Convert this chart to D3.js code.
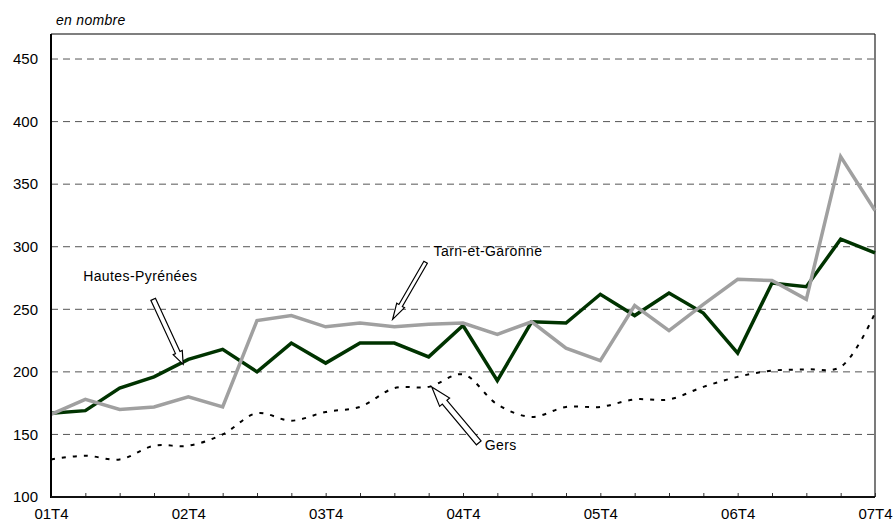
<!DOCTYPE html>
<html>
<head>
<meta charset="utf-8">
<script src="https://cdn.jsdelivr.net/npm/d3@7"></script>
<style>
  body { margin: 0; background: #fff; }
  text { font-family: "Liberation Sans", Arial, sans-serif; fill: #000; }
</style>
</head>
<body>
<svg id="chart" width="895" height="524"></svg>
<script>
  // quarters 01T4 .. 07T4
  const quarters = ['01T4', '02T1', '02T2', '02T3', '02T4', '03T1', '03T2', '03T3', '03T4',
    '04T1', '04T2', '04T3', '04T4', '05T1', '05T2', '05T3', '05T4',
    '06T1', '06T2', '06T3', '06T4', '07T1', '07T2', '07T3', '07T4'];
  const tickLabels = ['01T4', '02T4', '03T4', '04T4', '05T4', '06T4', '07T4'];
  const yTicks = [100, 150, 200, 250, 300, 350, 400, 450];

  const hautesPyrenees = [167, 169, 187, 196, 210, 218, 200, 223, 207, 223, 223, 212, 237,
    193, 240, 239, 262, 245, 263, 247, 215, 271, 268, 306, 295];
  const tarnEtGaronne = [166, 178, 170, 172, 180, 172, 241, 245, 236, 239, 236, 238, 239,
    230, 240, 219, 209, 253, 233, 254, 274, 273, 258, 372, 329];
  const gers = [130, 133, 130, 141, 141, 150, 167, 161, 168, 172, 187, 188, 198,
    174, 164, 172, 172, 178, 178, 188, 196, 201, 202, 204, 247];

  // arrow tip in data units, tail and label as pixel offsets from tip
  const notes = [
    { label: 'Hautes-Pyrénées', q: 3.85, v: 206, tail: [-30, -65], text: [-100, -83], shaft: 5, head: 10, headLen: 13 },
    { label: 'Tarn-et-Garonne', q: 9.95, v: 242, tail: [33, -57], text: [41, -63], shaft: 4, head: 9, headLen: 16 },
    { label: 'Gers', q: 11.09, v: 188, tail: [47, 56], text: [53, 63], shaft: 6, head: 13, headLen: 20 }
  ];

  const svg = d3.select('#chart');
  const width = +svg.attr('width');
  const height = +svg.attr('height');
  const margin = { top: 34, right: 20, bottom: 27, left: 51 };

  const x = d3.scaleLinear()
    .domain([0, quarters.length - 1])
    .range([margin.left, width - margin.right]);
  const y = d3.scaleLinear()
    .domain([100, 470])
    .range([height - margin.bottom, margin.top]);

  // gridlines
  svg.append('g')
    .selectAll('line')
    .data(yTicks.filter((t) => t > 100))
    .enter()
    .append('line')
    .attr('x1', x(0))
    .attr('x2', x(quarters.length - 1))
    .attr('y1', (t) => y(t))
    .attr('y2', (t) => y(t))
    .attr('stroke', '#555')
    .attr('stroke-width', 1)
    .attr('stroke-dasharray', '7,5');

  // frame top / right
  svg.append('line')
    .attr('x1', x(0)).attr('x2', x(quarters.length - 1))
    .attr('y1', y(470)).attr('y2', y(470))
    .attr('stroke', '#000').attr('stroke-width', 1.2);
  svg.append('line')
    .attr('x1', x(quarters.length - 1)).attr('x2', x(quarters.length - 1))
    .attr('y1', y(470)).attr('y2', y(100))
    .attr('stroke', '#222').attr('stroke-width', 1.2);

  // y axis labels
  const yAxis = d3.axisLeft(y).tickValues(yTicks).tickSize(0).tickPadding(13);
  svg.append('g')
    .attr('transform', `translate(${margin.left},0)`)
    .call(yAxis)
    .call((g) => g.select('.domain').remove())
    .call((g) => g.selectAll('text')
      .style('font-size', '15px')
      .attr('fill', '#000'));

  // x axis ticks (inward) and labels
  const xAxis = d3.axisBottom(x)
    .tickValues(d3.range(quarters.length))
    .tickSize(-4)
    .tickFormat((i) => tickLabels.includes(quarters[i]) ? quarters[i] : '');
  svg.append('g')
    .attr('transform', `translate(0,${height - margin.bottom})`)
    .call(xAxis)
    .call((g) => g.select('.domain').remove())
    .call((g) => g.selectAll('.tick line').attr('stroke', '#333'))
    .call((g) => g.selectAll('text')
      .attr('y', 11)
      .attr('dy', '0.71em')
      .style('font-size', '15px')
      .attr('fill', '#000'));

  // series
  const line = d3.line()
    .x((v, i) => x(i))
    .y((v) => y(v));

  svg.append('path')
    .datum(hautesPyrenees)
    .attr('d', line)
    .attr('fill', 'none')
    .attr('stroke', '#003300')
    .attr('stroke-width', 3.5)
    .attr('stroke-linejoin', 'miter');

  svg.append('path')
    .datum(tarnEtGaronne)
    .attr('d', line)
    .attr('fill', 'none')
    .attr('stroke', '#a0a0a0')
    .attr('stroke-width', 3.5)
    .attr('stroke-linejoin', 'miter');

  svg.append('path')
    .datum(gers)
    .attr('d', line.curve(d3.curveCatmullRom.alpha(0.5)))
    .attr('fill', 'none')
    .attr('stroke', '#000')
    .attr('stroke-width', 2)
    .attr('stroke-dasharray', '4,7');

  // axes lines left / bottom
  svg.append('line')
    .attr('x1', x(0)).attr('x2', x(0))
    .attr('y1', y(470)).attr('y2', y(100) + 1)
    .attr('stroke', '#000').attr('stroke-width', 2);
  svg.append('line')
    .attr('x1', x(0)).attr('x2', x(quarters.length - 1))
    .attr('y1', y(100)).attr('y2', y(100))
    .attr('stroke', '#111').attr('stroke-width', 2);

  svg.append('text')
    .attr('x', 56)
    .attr('y', 25)
    .style('font-size', '14px')
    .style('font-style', 'italic')
    .style('letter-spacing', '0.3px')
    .text('en nombre');

  // block arrows
  const arrowPath = (n) => {
    const tx = x(n.q);
    const ty = y(n.v);
    const sx = tx + n.tail[0];
    const sy = ty + n.tail[1];
    const len = Math.hypot(tx - sx, ty - sy);
    const ux = (tx - sx) / len;
    const uy = (ty - sy) / len;
    const px = -uy;
    const py = ux;
    const bx = tx - ux * n.headLen;
    const by = ty - uy * n.headLen;
    const s = n.shaft / 2;
    const h = n.head / 2;
    const pts = [
      [sx + px * s, sy + py * s],
      [bx + px * s, by + py * s],
      [bx + px * h, by + py * h],
      [tx, ty],
      [bx - px * h, by - py * h],
      [bx - px * s, by - py * s],
      [sx - px * s, sy - py * s]
    ];
    return 'M' + pts.map((p) => p.join(',')).join('L') + 'Z';
  };

  const ann = svg.append('g')
    .selectAll('g')
    .data(notes)
    .enter()
    .append('g');

  ann.append('path')
    .attr('d', arrowPath)
    .attr('fill', '#fff')
    .attr('stroke', '#000')
    .attr('stroke-width', 1.2)
    .attr('stroke-linejoin', 'miter');

  ann.append('text')
    .attr('x', (n) => x(n.q) + n.text[0])
    .attr('y', (n) => y(n.v) + n.text[1])
    .style('font-size', '14px')
    .style('letter-spacing', '0.4px')
    .text((n) => n.label);
</script>
</body>
</html>
